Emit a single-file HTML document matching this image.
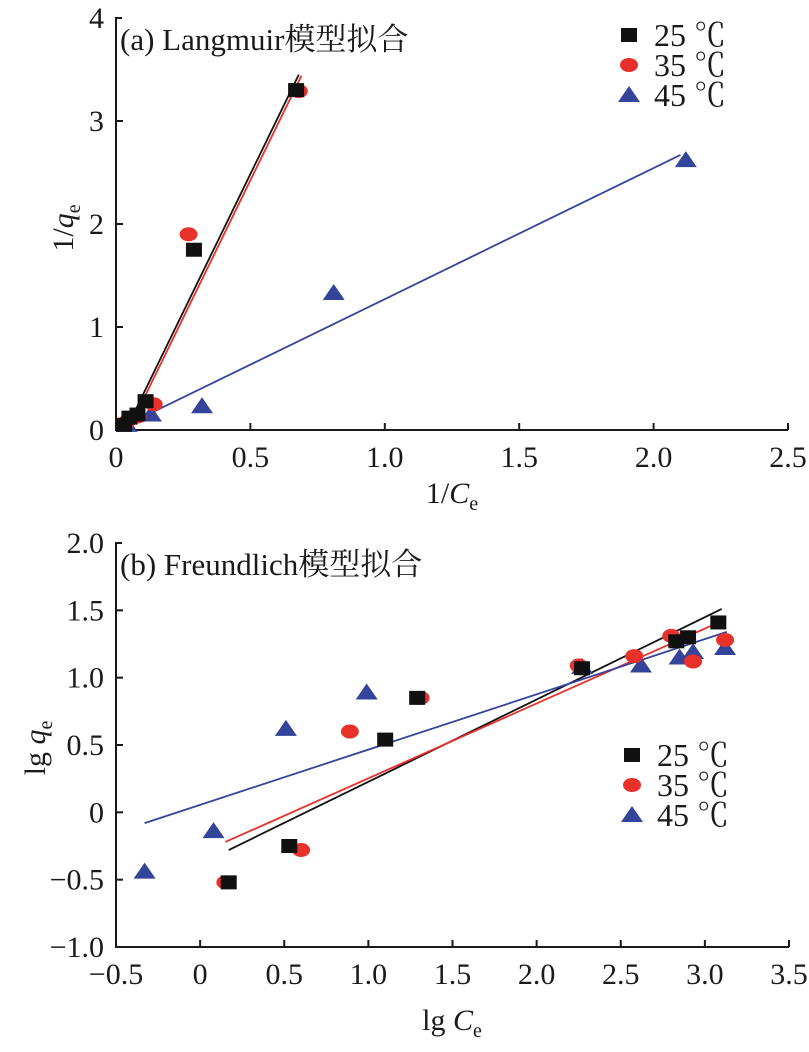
<!DOCTYPE html>
<html><head><meta charset="utf-8"><style>
html,body{margin:0;background:#fff;width:809px;height:1052px;overflow:hidden;}
svg{display:block;}
svg text{font-family:"Liberation Serif","Noto Serif CJK SC",serif;fill:#1a1a1a;}
</style></head><body>
<svg id="s" width="809" height="1052" viewBox="0 0 809 1052" xmlns="http://www.w3.org/2000/svg">
<text x="452" y="503" font-size="30" text-anchor="middle">1/<tspan font-style="italic">C</tspan><tspan font-size="20" dy="7">e</tspan></text>
<text transform="translate(73,228) rotate(-90)" font-size="30" text-anchor="middle">1/<tspan font-style="italic">q</tspan><tspan font-size="20" dy="7">e</tspan></text>
<text x="452" y="1030" font-size="30" text-anchor="middle">lg <tspan font-style="italic">C</tspan><tspan font-size="20" dy="7">e</tspan></text>
<text transform="translate(45,748) rotate(-90)" font-size="30" text-anchor="middle">lg <tspan font-style="italic">q</tspan><tspan font-size="20" dy="7">e</tspan></text>
</svg>
<script>
// Panel A data
const aT = ["25 ℃","35 ℃","45 ℃"];
const aX25 = [0.67,0.29,0.11,0.08,0.05,0.03];
const aY25 = [3.30,1.75,0.28,0.15,0.12,0.05];
const aX35 = [0.68,0.27,0.14,0.08,0.04];
const aY35 = [3.29,1.90,0.25,0.13,0.08];
const aX45 = [2.12,0.81,0.32,0.13,0.04];
const aY45 = [2.62,1.33,0.23,0.15,0.05];
const aFit25 = [[0.04,0.02],[0.68,3.45]];
const aFit35 = [[0.05,0.02],[0.69,3.44]];
const aFit45 = [[0.04,0.05],[2.10,2.67]];
const aXTicks = ["0","0.5","1.0","1.5","2.0","2.5"];
const aYTicks = ["0","1","2","3","4"];
// Panel B data
const bX25 = [0.17,0.53,1.10,1.29,2.27,2.83,2.90,3.08];
const bY25 = [-0.52,-0.25,0.54,0.85,1.07,1.27,1.30,1.41];
const bX35 = [0.15,0.60,0.89,1.31,2.25,2.58,2.80,2.93,3.12];
const bY35 = [-0.52,-0.28,0.60,0.85,1.09,1.16,1.31,1.12,1.28];
const bX45 = [-0.33,0.08,0.51,0.99,2.27,2.62,2.85,2.93,3.12];
const bY45 = [-0.44,-0.14,0.62,0.89,1.08,1.09,1.15,1.19,1.22];
const bFit25 = [[0.17,-0.28],[3.10,1.51]];
const bFit35 = [[0.15,-0.22],[3.10,1.42]];
const bFit45 = [[-0.33,-0.08],[3.13,1.34]];
const bXTicks = ["−0.5","0","0.5","1.0","1.5","2.0","2.5","3.0","3.5"];
const bYTicks = ["−1.0","−0.5","0","0.5","1.0","1.5","2.0"];

const NS="http://www.w3.org/2000/svg", svg=document.getElementById('s');
function el(t,a,p){const e=document.createElementNS(NS,t);for(const k in a)e.setAttribute(k,a[k]);(p||svg).appendChild(e);return e;}
const COL={sq:"#111111",ci:"#e8312a",tr:"#34449a"};
function marker(kind,cx,cy,g){
  let e;
  if(kind==='sq') e=el('rect',{x:cx-8,y:cy-7,width:16,height:14,fill:COL.sq},g);
  else if(kind==='ci') e=el('ellipse',{cx:cx,cy:cy,rx:9,ry:7,fill:COL.ci},g);
  else e=el('polygon',{points:`${cx},${cy-9} ${cx+11},${cy+7} ${cx-11},${cy+7}`,fill:COL.tr},g);
  return e;
}
function panel(o){
  const sx=v=>o.x0+(v-o.xmin)/(o.xmax-o.xmin)*(o.x1-o.x0);
  const sy=v=>o.y0-(v-o.ymin)/(o.ymax-o.ymin)*(o.y0-o.y1);
  const g=el('g',{});
  
  
  const ax=el('path',{d:`M${o.x0+6},${o.y1} H${o.x0} V${o.y0} H${o.x1}`,fill:'none',stroke:'#1a1a1a','stroke-width':2},g);
  
  
  o.xt.forEach((t,i)=>{
    const v=o.xmin+i*(o.xmax-o.xmin)/(o.xt.length-1),x=sx(v);
    if(i>0) el('line',{x1:x,x2:x,y1:o.y0,y2:o.y0-7,stroke:'#1a1a1a','stroke-width':2},g);
    const tx=el('text',{x:x,y:o.y0+37,'font-size':30,'text-anchor':'middle'},g);tx.textContent=t;
    
    
  });
  o.yt.forEach((t,i)=>{
    const v=o.ymin+i*(o.ymax-o.ymin)/(o.yt.length-1),y=sy(v);
    if(i>0&&i<o.yt.length-1) el('line',{x1:o.x0,x2:o.x0+7,y1:y,y2:y,stroke:'#1a1a1a','stroke-width':2},g);
    const tx=el('text',{x:o.x0-12,y:y+10,'font-size':30,'text-anchor':'end'},g);tx.textContent=t;
    
    
  });
  const fits=[[o.f25,'#111'],[o.f35,'#e8312a'],[o.f45,'#34449a']];
  fits.forEach(([f,c])=>{
    const l=el('line',{x1:sx(f[0][0]),y1:sy(f[0][1]),x2:sx(f[1][0]),y2:sy(f[1][1]),stroke:c,'stroke-width':1.8},g);
    
    
  });
  const ser=[[o.x45,o.y45,'tr'],[o.x35,o.y35,'ci'],[o.x25,o.y25,'sq']];
  ser.forEach(([xs,ys,k])=>xs.forEach((x,i)=>{
    const m=marker(k,sx(x),sy(ys[i]),g);
    
    
  }));
  const ti=el('text',{x:o.x0+4,y:o.y1+32,'font-size':31},g);ti.textContent=o.title;
  
  
  ['sq','ci','tr'].forEach((k,i)=>{
    const ly=o.ly+i*30;
    marker(k,o.lx,ly,g);
    const t=el('text',{x:o.lx+25,y:ly+11,'font-size':32},g);t.textContent=aT[i];
    
    
  });
  return {sx,sy,g};
}
panel({name:'langmuir-chart',x0:116,x1:788,y0:430,y1:18,xmin:0,xmax:2.5,ymin:0,ymax:4,xt:aXTicks,yt:aYTicks,
  x25:aX25,y25:aY25,x35:aX35,y35:aY35,x45:aX45,y45:aY45,f25:aFit25,f35:aFit35,f45:aFit45,
  title:'(a)  Langmuir模型拟合',lx:629,ly:35});
panel({name:'freundlich-chart',x0:116,x1:789,y0:947,y1:543,xmin:-0.5,xmax:3.5,ymin:-1,ymax:2,xt:bXTicks,yt:bYTicks,
  x25:bX25,y25:bY25,x35:bX35,y35:bY35,x45:bX45,y45:bY45,f25:bFit25,f35:bFit35,f45:bFit45,
  title:'(b)  Freundlich模型拟合',lx:632,ly:755});
</script>
</body></html>
